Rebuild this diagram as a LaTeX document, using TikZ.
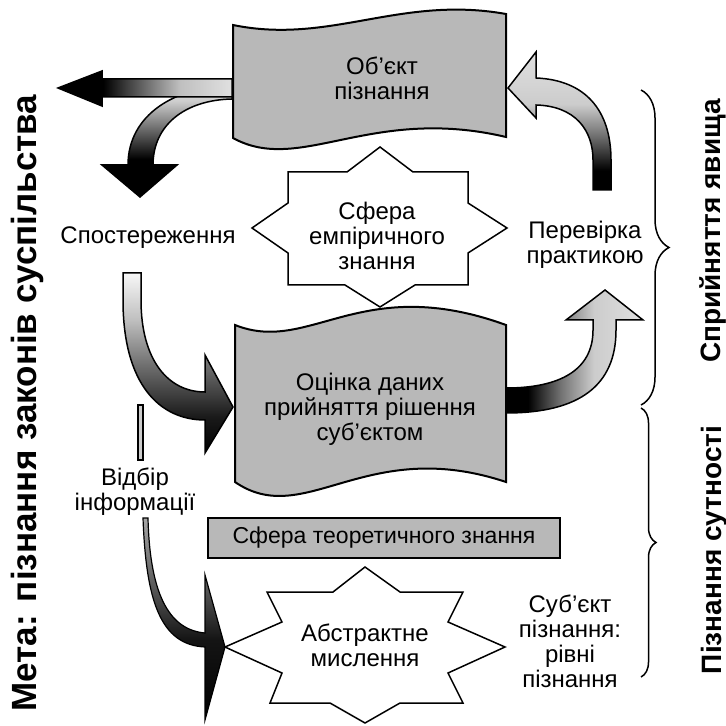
\documentclass[tikz,border=0pt]{standalone}
\usepackage{fontspec}
\setmainfont{Liberation Sans}
\usetikzlibrary{decorations.pathreplacing}
\pgfdeclarehorizontalshading{shA}{100bp}{color(0bp)=(black); color(25bp)=(black); color(38bp)=(black); color(45bp)=(black!75); color(60bp)=(black!25); color(75bp)=(black!12); color(100bp)=(black!12)}
\pgfdeclareverticalshading{shB}{100bp}{color(0bp)=(black); color(25bp)=(black); color(42bp)=(black); color(55bp)=(black!60); color(68bp)=(black!20); color(75bp)=(black!10); color(100bp)=(black!10)}
\pgfdeclareverticalshading{shC}{100bp}{color(0bp)=(black); color(25bp)=(black); color(35bp)=(black!90); color(50bp)=(black!55); color(62bp)=(black!25); color(75bp)=(black!3); color(100bp)=(black!3)}
\pgfdeclarehorizontalshading{shD}{100bp}{color(0bp)=(black); color(25bp)=(black); color(33bp)=(black); color(45bp)=(black!55); color(57bp)=(black!20); color(75bp)=(black!12); color(100bp)=(black!12)}
\pgfdeclareverticalshading{shE}{100bp}{color(0bp)=(black); color(25bp)=(black); color(32bp)=(black); color(45bp)=(black!55); color(56bp)=(black!20); color(75bp)=(black!12); color(100bp)=(black!12)}
\pgfdeclareverticalshading{shF}{100bp}{color(0bp)=(black); color(25bp)=(black); color(45bp)=(black!92); color(58bp)=(black!65); color(75bp)=(black!35); color(100bp)=(black!35)}
\begin{document}
\begin{tikzpicture}[x=0.5pt,y=-0.5pt,
  lbl/.style={font=\fontsize{12}{12.5}\selectfont, align=center, inner sep=0pt},
  vlbl/.style={font=\fontsize{14}{16}\selectfont\bfseries, rotate=90, inner sep=0pt},
  banner/.style={draw=black, line width=1pt, fill=black!28},
  starshape/.style={draw=black, line width=0.75pt, fill=white},
  arr/.style={draw=black, line width=0.75pt, shade},
  bracestyle/.style={draw=black, line width=0.75pt, decorate}
]
\useasboundingbox (0,0) rectangle (726,726);

% arrows from the object banner
\path[arr, shading=shB] (232,86) .. controls (175,86) and (128,115) .. (128,165) -- (102,165) -- (140,197) -- (177,165) -- (153,165) .. controls (153,125) and (185,100) .. (232,99) -- cycle;
\path[arr, shading=shA] (232,79) -- (102,79) -- (102,71) -- (58,88) -- (102,106) -- (102,97) -- (232,97) -- cycle;

% observation -> evaluation
\path[arr, shading=shC] (123,273) -- (123,300) .. controls (123,385) and (160,420) .. (205,420) -- (205,453) -- (233,407) -- (205,355) -- (205,392) .. controls (168,392) and (141,360) .. (141,300) -- (141,273) -- cycle;

% evaluation -> practice
\path[arr, shading=shD] (506,413) .. controls (580,413) and (616,385) .. (616,330) -- (616,320) -- (643,320) -- (605,290) -- (566,320) -- (593,320) -- (593,330) .. controls (593,370) and (560,388) .. (506,388) -- cycle;

% practice -> object
\path[arr, shading=shE] (611,190) -- (611,160) .. controls (611,110) and (585,80) .. (536,78) -- (536,52) -- (508,88) -- (536,118) -- (536,105) .. controls (575,106) and (593,130) .. (593,160) -- (593,190) -- cycle;

% selection of information
\draw[line width=0.6pt, fill=black!20] (138,405) rectangle (143,460);
\path[arr, line width=0.6pt, shading=shF] (143,518) .. controls (146,600) and (160,645) .. (205,647) -- (205,720) -- (225,647) -- (205,575) -- (205,633) .. controls (172,630) and (150,600) .. (148,518) -- cycle;

% banners
\draw[banner] (233,25) .. controls (330,45) and (400,-5) .. (506,14) -- (506,137) .. controls (370,105) and (300,175) .. (233,138) -- cycle;
\draw[banner] (235,325) .. controls (310,355) and (360,272) .. (506,325) -- (506,482) .. controls (365,435) and (305,530) .. (235,482) -- cycle;

% stars
\draw[starshape] (380,147) -- (413,172) -- (468,172) -- (468,203) -- (507,228) -- (468,253) -- (468,285) -- (415,285) -- (380,307) -- (345,285) -- (288,285) -- (288,253) -- (252,228) -- (288,203) -- (288,172) -- (347,172) -- cycle;
\draw[starshape] (365,567) -- (400,592) -- (463,592) -- (448,622) -- (505,647) -- (448,673) -- (463,703) -- (400,703) -- (365,723) -- (330,703) -- (270,703) -- (282,673) -- (225,647) -- (282,622) -- (267,592) -- (333,592) -- cycle;

% theory box
\draw[banner] (208,518) rectangle (560,558);

% braces
\draw[bracestyle, decoration={brace, amplitude=14pt}] (641,90) -- (641,405);
\draw[bracestyle, decoration={brace, amplitude=7.5pt}] (641,408) -- (641,677);

% labels
\node[lbl] (obj) at (382,78) {Об’єкт\\пізнання};
\node[lbl] (emp) at (377,236) {Сфера\\емпіричного\\знання};
\node[lbl] (obs) at (148,238) {Спостереження};
\node[lbl] (check) at (585,245) {Перевірка\\практикою};
\node[lbl] (eval) at (370,409) {Оцінка даних\\прийняття рішення\\суб’єктом};
\node[lbl] (sel) at (135,492) {Відбір\\інформації};
\node[lbl, font=\fontsize{11.5}{12}\selectfont] (theo) at (384,538) {Сфера теоретичного знання};
\node[lbl] (abs) at (365,645) {Абстрактне\\мислення};
\node[lbl] (subj) at (570,641) {Суб’єкт\\пізнання:\\рівні\\пізнання};

\node[vlbl, font=\fontsize{17.5}{19}\selectfont\bfseries] (goal) at (27,403) {Мета: пізнання законів суспільства};
\node[vlbl] (perc) at (713,231) {Сприйняття явища};
\node[vlbl] (ess) at (714,550) {Пізнання сутності};
\end{tikzpicture}
\end{document}
